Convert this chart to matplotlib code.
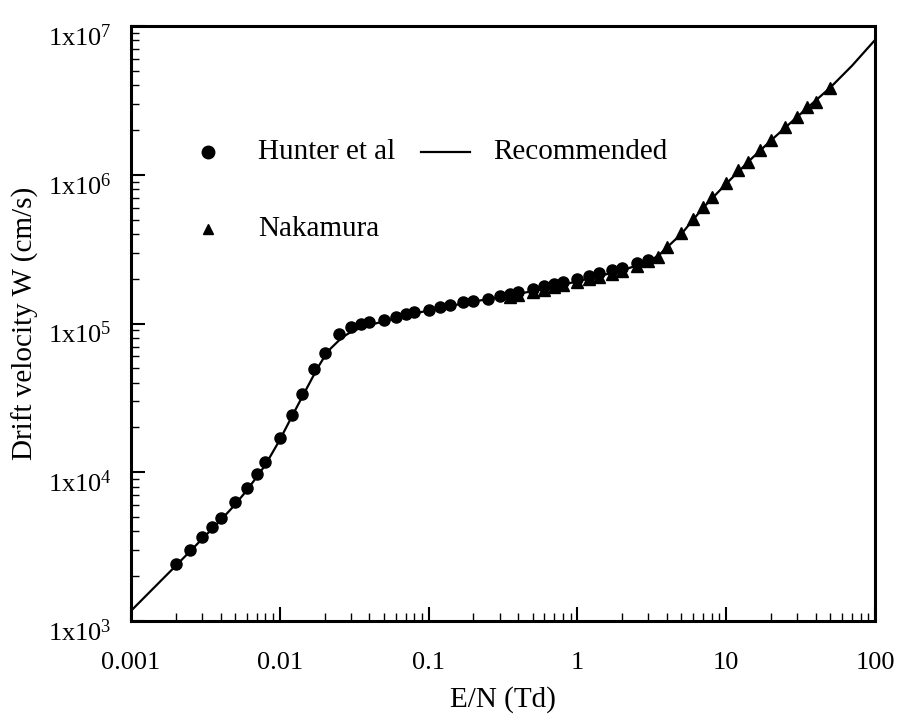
import math
import matplotlib
matplotlib.use("Agg")
import matplotlib.pyplot as plt
from matplotlib.ticker import FixedLocator, LogLocator, FuncFormatter, NullFormatter
from matplotlib.transforms import ScaledTranslation

plt.rcParams['font.family'] = ['Liberation Serif', 'DejaVu Serif']
plt.rcParams['mathtext.fontset'] = 'custom'
plt.rcParams['mathtext.rm'] = 'Liberation Serif'
plt.rcParams['mathtext.it'] = 'Liberation Serif:italic'

# Hunter et al (circles)
hunter_x = [0.002, 0.0025, 0.003, 0.0035, 0.004, 0.005, 0.006, 0.007, 0.008, 0.01,
            0.012, 0.014, 0.017, 0.02, 0.025, 0.03, 0.035, 0.04, 0.05, 0.06,
            0.07, 0.08, 0.1, 0.12, 0.14, 0.17, 0.2, 0.25, 0.3, 0.35,
            0.4, 0.5, 0.6, 0.7, 0.8, 1.0, 1.2, 1.4, 1.7, 2.0, 2.5, 3.0]
hunter_w = [2420, 3010, 3650, 4290, 4930, 6310, 7870, 9690, 11700, 17000,
            24300, 33600, 49200, 63700, 84600, 94200, 99300, 101900, 105600, 111100,
            115800, 119500, 123800, 128500, 133200, 138800, 141700, 146800, 152400, 157900,
            162900, 170600, 178700, 183500, 191000, 200000, 207600, 217400, 227800, 237200, 254000, 269200]

# Nakamura (triangles)
nak_x = [0.35, 0.4, 0.5, 0.6, 0.7, 0.8, 1.0, 1.2, 1.4, 1.7, 2.0, 2.5, 3.0, 3.5,
         4.0, 5.0, 6.0, 7.0, 8.0, 10, 12, 14, 17, 20, 25, 30, 35, 40, 50]
nak_w = [150000, 155000, 162000, 169000, 175000, 181000, 190000, 198000, 206000, 216000,
         226000, 243000, 262000, 281000,
         328000, 404000, 502000, 604000, 712000, 876000, 1080000, 1220000, 1470000, 1710000,
         2080000, 2460000, 2870000, 3100000, 3810000]

# Recommended curve
rec_x = [0.001, 0.0015, 0.002, 0.003, 0.004, 0.005, 0.006, 0.007, 0.008, 0.01,
         0.012, 0.014, 0.016, 0.018, 0.02, 0.022, 0.025, 0.028, 0.03, 0.035,
         0.04, 0.05, 0.07, 0.1, 0.15, 0.2, 0.3, 0.5, 0.7, 1.0,
         1.5, 2.0, 2.5, 3.0, 3.3, 3.6, 4.0, 5.0, 7.0, 10, 15, 20, 30, 50, 70, 100]
rec_w = [1170, 1760, 2350, 3550, 4750, 6050, 7550, 9300, 11200, 16500,
         23500, 31500, 40500, 50500, 60000, 68000, 77000, 84000, 87500, 93500,
         97500, 103500, 113000, 122500, 133000, 140500, 150000, 165000, 177000, 192000,
         212000, 228000, 245000, 263000, 276000, 293000, 325000, 400000, 600000, 870000,
         1300000, 1700000, 2450000, 3850000, 5400000, 8050000]

x_major = [0.001, 0.01, 0.1, 1, 10, 100]
x_labels = ['0.001', '0.01', '0.1', '1', '10', '100']
y_major = [1e3, 1e4, 1e5, 1e6, 1e7]

fig = plt.figure(figsize=(9.01, 7.15), dpi=100)
ax = fig.add_axes([0.1454, 0.1315, 0.8257, 0.8321])

ax.plot(rec_x, rec_w, color='black', lw=1.6, zorder=2)
ax.plot(nak_x, nak_w, linestyle='none', marker='^', color='black', ms=8.5, zorder=3)
ax.plot(hunter_x, hunter_w, linestyle='none', marker='o', color='black', ms=8, zorder=4)

ax.set_xscale('log')
ax.set_yscale('log')
ax.set_xlim(0.001, 100)
ax.set_ylim(1e3, 1e7)

ax.xaxis.set_major_locator(FixedLocator(x_major))
ax.xaxis.set_minor_locator(LogLocator(base=10, subs=range(2, 10), numticks=10))
ax.yaxis.set_major_locator(FixedLocator(y_major))
ax.yaxis.set_minor_locator(LogLocator(base=10, subs=range(2, 10), numticks=10))

def xfmt(v, pos):
    return x_labels[pos] if pos is not None and pos < len(x_labels) else ''
def yfmt(v, pos):
    e = int(round(math.log10(v)))
    return r'1x10$^{\mathregular{%d}}$' % e

ax.xaxis.set_major_formatter(FuncFormatter(xfmt))
ax.yaxis.set_major_formatter(FuncFormatter(yfmt))
ax.xaxis.set_minor_formatter(NullFormatter())
ax.yaxis.set_minor_formatter(NullFormatter())

ax.tick_params(which='major', direction='in', length=10, width=1.5, labelsize=19,
               top=False, right=False)
ax.tick_params(which='minor', direction='in', length=5.5, width=1.0, top=False, right=False)
ax.tick_params(axis='x', which='major', pad=22)
ax.tick_params(axis='y', which='major', pad=14)

for sp in ax.spines.values():
    sp.set_linewidth(2.2)

off = ScaledTranslation(0, -6.5 / 72, fig.dpi_scale_trans)
for t in ax.yaxis.get_major_ticks():
    t.label1.set_transform(t.label1.get_transform() + off)

ax.set_xlabel('E/N (Td)', fontsize=21, labelpad=9)
ax.set_ylabel('Drift velocity W (cm/s)', fontsize=21, labelpad=6)

# Legend (manual)
ax.plot([0.104], [0.789], transform=ax.transAxes, marker='o', color='black', ms=9, clip_on=False)
ax.text(0.171, 0.789, 'Hunter et al', transform=ax.transAxes, fontsize=21, va='center', ha='left')
ax.plot([0.390, 0.456], [0.789, 0.789], transform=ax.transAxes, color='black', lw=1.6)
ax.text(0.487, 0.789, 'Recommended', transform=ax.transAxes, fontsize=21, va='center', ha='left')
ax.plot([0.104], [0.659], transform=ax.transAxes, marker='^', color='black', ms=7, clip_on=False)
ax.text(0.171, 0.659, 'Nakamura', transform=ax.transAxes, fontsize=21, va='center', ha='left')

fig.savefig('out.png', dpi=100)
